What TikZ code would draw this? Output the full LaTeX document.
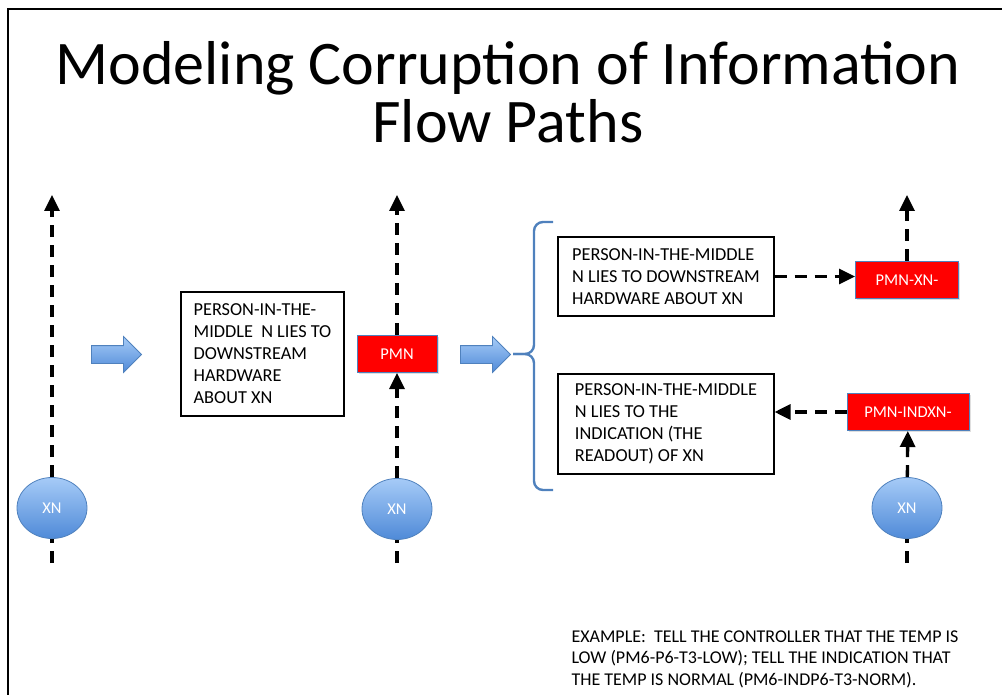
\documentclass[tikz,border=0pt]{standalone}
\usepackage{fontspec}
\setmainfont{Carlito}
\usetikzlibrary{arrows.meta,shapes.geometric,shapes.arrows,shadows}
\definecolor{edgeblue}{HTML}{4F81BD}
\definecolor{lighttop}{HTML}{A6CBF7}
\definecolor{darkbot}{HTML}{4F8AD8}
\begin{document}
\begin{tikzpicture}[
        x=1pt, y=-1pt,
        flowline/.style={line width=3.3pt, dash pattern=on 12pt off 8pt},
        flow/.style={flowline, -{Triangle[length=16pt,width=15pt]}},
        xn/.style={ellipse, draw=edgeblue, line width=0.8pt, top color=lighttop, bottom color=darkbot,
            minimum width=70pt, minimum height=61pt, inner sep=0pt, text=white, font=\fontsize{16.5}{18}\selectfont},
        pmnbox/.style={draw=edgeblue, line width=1pt, fill=red, text=white, minimum height=37pt, inner sep=0pt,
            font=\fontsize{16.5}{18}\selectfont, drop shadow={opacity=0.25, shadow xshift=1.5pt, shadow yshift=-1.5pt}},
        note/.style={draw, line width=1.1pt, align=left, inner sep=0pt, font=\fontsize{18.3}{22}\selectfont},
        bigarrow/.style={single arrow, draw=edgeblue, line width=0.8pt, top color=lighttop, bottom color=darkbot,
            minimum width=35pt, minimum height=50pt, single arrow head extend=9pt, inner xsep=0pt, inner ysep=8.5pt}
    ]
    \useasboundingbox (0,0) rectangle (1002,695);
    \draw[line width=2pt] (8,720) -- (8,9) -- (1020,9);

    \node[align=center, font=\fontsize{62}{58}\selectfont, anchor=base] (title) at (508,143)
        {Modeling Corruption of Information\\Flow Paths};

    % ends of the three flow lines
    \coordinate (top1) at (52,195);
    \coordinate (bot1) at (52,563);
    \coordinate (top2) at (397,195);
    \coordinate (bot2) at (397,563);
    \coordinate (top3) at (907,195);
    \coordinate (bot3) at (907,563);

    \node[xn] (xn1) at (52,508) {XN};
    \node[xn] (xn2) at (397,509) {XN};
    \node[xn] (xn3) at (907,508) {XN};

    \node[pmnbox, minimum width=80pt] (pmn) at (397,354) {PMN};
    \node[pmnbox, minimum width=103pt] (pmnxn) at (907,280) {PMN-XN-};
    \node[pmnbox, minimum width=122pt] (pmnind) at (908,412) {PMN-INDXN-};

    \node[note, minimum width=163pt, minimum height=124pt] (lie) at (262.5,354)
        {PERSON-IN-THE-\\MIDDLE~ N LIES TO\\DOWNSTREAM\\HARDWARE\\ABOUT XN};
    \node[note, minimum width=216pt, minimum height=79pt] (liehw) at (666,276.5)
        {PERSON-IN-THE-MIDDLE\\N LIES TO DOWNSTREAM\\HARDWARE ABOUT XN};
    \node[note, minimum width=216pt, minimum height=100pt] (lieind) at (666,424)
        {PERSON-IN-THE-MIDDLE\\N LIES TO THE\\INDICATION (THE\\READOUT) OF XN};

    \node[bigarrow] (go1) at (112,354.5) {};
    \node[bigarrow] (go2) at (481,354.5) {};

    % brace
    \draw[edgeblue, line width=2.4pt, rounded corners=9pt] (553,222) -- (534,222) -- (534,354) -- (513,354);
    \draw[edgeblue, line width=2.4pt, rounded corners=9pt] (553,490) -- (534,490) -- (534,354) -- (513,354);

    \draw[flowline] (bot1) -- (xn1);
    \draw[flow] (xn1) -- (top1);
    \draw[flowline] (bot2) -- (xn2);
    \draw[flow] (xn2) -- (pmn);
    \draw[flow] (pmn) -- (top2);
    \draw[flowline] (bot3) -- (xn3);
    \draw[flow] (xn3) -- (pmnind);
    \draw[flow] (pmnxn) -- (top3);
    \draw[flow] (liehw.east) -- (liehw.east -| pmnxn.west);
    \draw[flow] (pmnind.west) -- (pmnind.west -| lieind.east);

    \node[align=left, anchor=base west, font=\fontsize{18}{21.5}\selectfont] (example) at (568,685)
        {EXAMPLE:~ TELL THE CONTROLLER THAT THE TEMP IS\\LOW (PM6-P6-T3-LOW); TELL THE INDICATION THAT\\THE TEMP IS NORMAL (PM6-INDP6-T3-NORM).};
\end{tikzpicture}
\end{document}
